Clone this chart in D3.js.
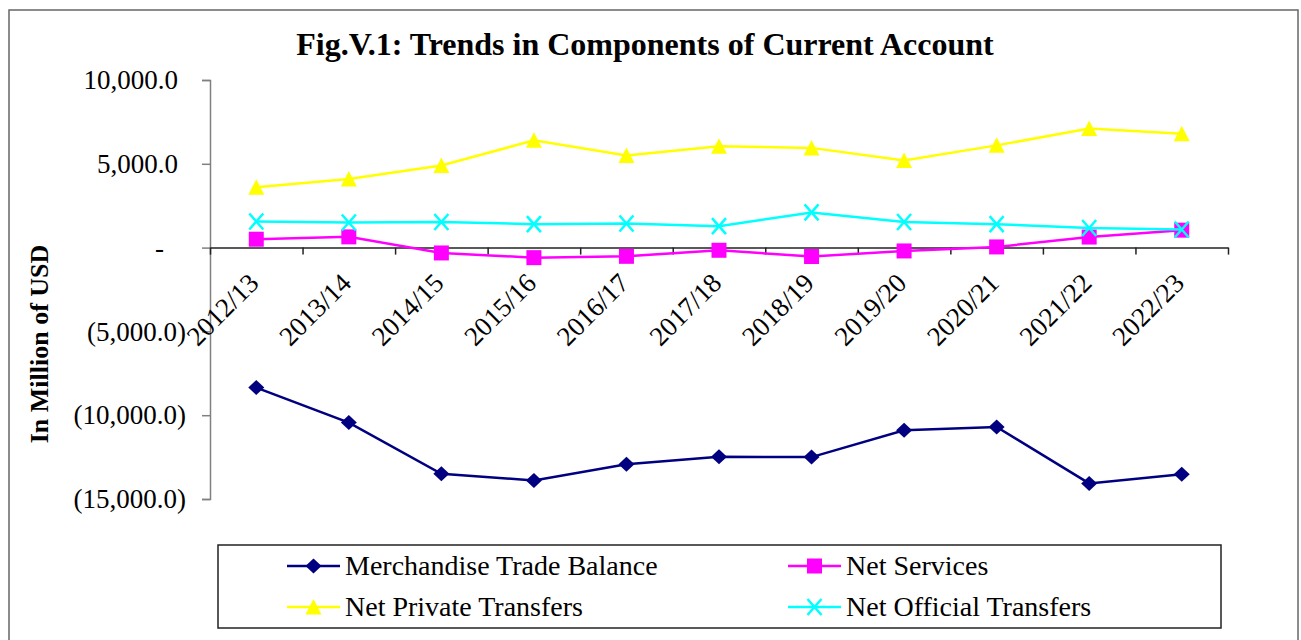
<!DOCTYPE html>
<html>
<head>
<meta charset="utf-8">
<script src="https://cdn.jsdelivr.net/npm/d3@7"></script>
<style>
  html, body { margin: 0; padding: 0; background: #fff; }
  svg { display: block; font-family: "Liberation Serif", "Times New Roman", serif; }
</style>
</head>
<body>
<div id="chart"></div>
<script>
const years = ['2012/13', '2013/14', '2014/15', '2015/16', '2016/17', '2017/18',
  '2018/19', '2019/20', '2020/21', '2021/22', '2022/23'];

const merchandiseTrade = [-8350, -10440, -13500, -13890, -12930, -12480, -12500, -10900, -10700, -14070, -13530];
const netServices = [500, 640, -320, -600, -520, -160, -530, -200, 40, 630, 1040];
const netPrivateTransfers = [3600, 4100, 4900, 6400, 5500, 6050, 5950, 5200, 6100, 7100, 6800];
const netOfficialTransfers = [1560, 1500, 1530, 1400, 1440, 1280, 2100, 1530, 1400, 1170, 1080];

const yTicks = [10000, 5000, 0, -5000, -10000, -15000];

const series = [
  { name: 'Merchandise Trade Balance', values: merchandiseTrade, color: '#000080', marker: 'diamond' },
  { name: 'Net Services', values: netServices, color: '#ff00ff', marker: 'square' },
  { name: 'Net Private Transfers', values: netPrivateTransfers, color: '#ffff00', marker: 'triangle' },
  { name: 'Net Official Transfers', values: netOfficialTransfers, color: '#00ffff', marker: 'cross' }
];

const width = 1301, height = 640;
const plot = { left: 210, right: 1228, top: 80, bottom: 499 };

const svg = d3.select('#chart').append('svg')
  .attr('width', width)
  .attr('height', height);

// outer frame
svg.append('rect')
  .attr('x', 9).attr('y', 10)
  .attr('width', 1289).attr('height', 640)
  .attr('fill', '#fff')
  .attr('stroke', '#666')
  .attr('stroke-width', 1.5);

svg.append('text')
  .attr('x', 645).attr('y', 55)
  .attr('text-anchor', 'middle')
  .attr('font-weight', 'bold')
  .attr('font-size', 32)
  .text('Fig.V.1: Trends in Components of Current Account');

const x = d3.scaleBand().domain(years).range([plot.left, plot.right]).padding(0);
const xEdges = d3.scaleLinear().domain([0, years.length]).range([plot.left, plot.right]);
const y = d3.scaleLinear().domain([-15000, 10000]).range([plot.bottom, plot.top]);

const fmt = d3.format(',.1f');
function accounting(v) {
  if (v === 0) return '-';
  return v < 0 ? `(${fmt(-v)})` : fmt(v);
}

// y axis
const yAxis = svg.append('g')
  .attr('transform', `translate(${plot.left},0)`)
  .call(d3.axisLeft(y).tickValues(yTicks).tickFormat(accounting).tickSizeOuter(0).tickSize(8).tickPadding(16));
yAxis.select('.domain').attr('stroke', '#808080').attr('stroke-width', 1.5);
yAxis.selectAll('.tick line').attr('stroke', '#808080').attr('stroke-width', 1.5);
yAxis.selectAll('.tick text')
  .attr('font-size', 27)
  .attr('fill', '#000')
  .attr('font-family', '"Liberation Serif", serif')
  .attr('dx', d => d > 0 ? -8 : d === 0 ? -22 : 0);

svg.append('text')
  .attr('transform', 'translate(48,344) rotate(-90)')
  .attr('text-anchor', 'middle')
  .attr('font-weight', 'bold')
  .attr('font-size', 26)
  .text('In Million of USD');

// x axis on the zero line, ticks at category edges
const xAxis = svg.append('g')
  .attr('transform', `translate(0,${y(0)})`)
  .call(d3.axisBottom(xEdges).tickValues(d3.range(years.length + 1)).tickFormat('').tickSize(7).tickSizeOuter(0));
xAxis.select('.domain').attr('stroke', '#222').attr('stroke-width', 1.5);
xAxis.selectAll('.tick line').attr('stroke', '#222').attr('stroke-width', 1.5);

const xLabels = svg.append('g')
  .attr('transform', `translate(0,${y(0)})`)
  .call(d3.axisBottom(x).tickSize(0).tickPadding(0));
xLabels.select('.domain').remove();
xLabels.selectAll('.tick text')
  .attr('font-size', 27)
  .attr('fill', '#000')
  .attr('font-family', '"Liberation Serif", serif')
  .attr('text-anchor', 'end')
  .attr('dy', 0)
  .attr('transform', 'translate(4,37) rotate(-45)');

const markerPaths = {
  diamond: 'M0,-7.5L8,0L0,7.5L-8,0Z',
  square: 'M-7.5,-7.5H7.5V7.5H-7.5Z',
  triangle: 'M0,-8L8,7.5L-8,7.5Z',
  cross: 'M-7,-8L7,8M7,-8L-7,8'
};

function drawMarker(sel, s) {
  const isCross = s.marker === 'cross';
  sel.append('path')
    .attr('d', markerPaths[s.marker])
    .attr('fill', isCross ? 'none' : s.color)
    .attr('stroke', s.color)
    .attr('stroke-width', isCross ? 2.5 : 0);
}

const line = d3.line()
  .x((d, i) => x(years[i]) + x.bandwidth() / 2)
  .y(d => y(d));

series.forEach(s => {
  const g = svg.append('g');
  g.append('path')
    .datum(s.values)
    .attr('d', line)
    .attr('fill', 'none')
    .attr('stroke', s.color)
    .attr('stroke-width', 2.5);
  g.selectAll('g.pt')
    .data(s.values)
    .join('g')
    .attr('class', 'pt')
    .attr('transform', (d, i) => `translate(${x(years[i]) + x.bandwidth() / 2},${y(d)})`)
    .each(function () { drawMarker(d3.select(this), s); });
});

// legend
const legend = svg.append('g');
legend.append('rect')
  .attr('x', 218).attr('y', 545)
  .attr('width', 1003).attr('height', 83)
  .attr('fill', '#fff')
  .attr('stroke', '#222')
  .attr('stroke-width', 1.5);

const legendPos = [
  { x: 287, y: 566 }, { x: 788, y: 566 },
  { x: 287, y: 607 }, { x: 788, y: 607 }
];

series.forEach((s, i) => {
  const p = legendPos[i];
  const item = legend.append('g').attr('transform', `translate(${p.x},${p.y})`);
  item.append('line')
    .attr('x1', 0).attr('x2', 53)
    .attr('stroke', s.color)
    .attr('stroke-width', 2.5);
  drawMarker(item.append('g').attr('transform', 'translate(26.5,0)'), s);
  item.append('text')
    .attr('x', 58).attr('y', 9)
    .attr('font-size', 28)
    .text(s.name);
});
</script>
</body>
</html>
